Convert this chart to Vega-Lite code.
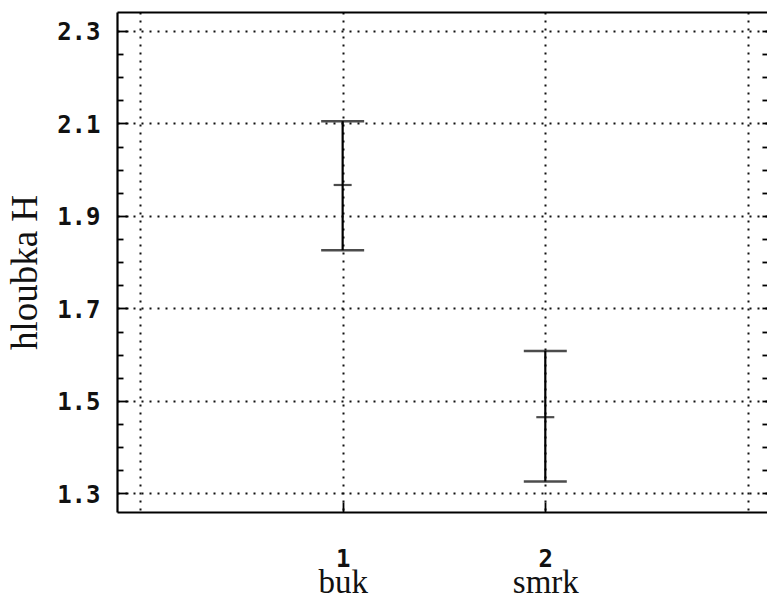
{
  "$schema": "https://vega.github.io/schema/vega-lite/v6.json",
  "autosize": "none",
  "width": 650,
  "height": 500,
  "padding": {"left": 117, "top": 12, "right": 0, "bottom": 88},
  "background": "white",
  "config": {"view": {"stroke": null}},
  "data": {"values": [
    {"pos": 1, "grp": "buk", "lo": 1.826, "mean": 1.967, "hi": 2.105},
    {"pos": 2, "grp": "smrk", "lo": 1.326, "mean": 1.465, "hi": 1.608}
  ]},
  "resolve": {"axis": {"x": "independent", "y": "independent"}},
  "layer": [
    {
      "mark": {"type": "rule", "color": "#000", "strokeWidth": 2.2},
      "encoding": {
        "x": {"field": "pos", "type": "quantitative",
          "scale": {"domain": [-0.1135, 3.094], "nice": false, "zero": false},
          "axis": {"orient": "bottom", "values": [0, 1, 2, 3], "title": null,
            "grid": true, "gridDash": [2, 6], "gridWidth": 2, "gridColor": "#111", "gridOpacity": 1,
            "domain": true, "domainColor": "#000", "domainWidth": 2.2,
            "ticks": true, "tickSize": -10, "tickWidth": 1.8, "tickColor": "#000",
            "tickOpacity": {"condition": {"test": "datum.value == 1 || datum.value == 2", "value": 1}, "value": 0},
            "labelExpr": "datum.value == 1 ? '1' : datum.value == 2 ? '2' : ''",
            "labelFont": "DejaVu Sans Mono", "labelFontSize": 24, "labelFontWeight": "bold", "labelColor": "#111",
            "labelBaseline": "alphabetic", "labelPadding": 64, "labelFlush": false, "labelOverlap": false}},
        "y": {"field": "lo", "type": "quantitative",
          "scale": {"domain": [1.26, 2.341], "nice": false, "zero": false},
          "axis": {"orient": "left", "values": [1.3,1.35,1.4,1.45,1.5,1.55,1.6,1.65,1.7,1.75,1.8,1.85,1.9,1.95,2.0,2.05,2.1,2.15,2.2,2.25,2.3],
            "title": "hloubka H", "titleFont": "Liberation Serif", "titleFontSize": 37, "titleFontWeight": "normal",
            "titleColor": "#111", "titlePadding": 12, "titleY": 260,
            "grid": true, "gridDash": [2, 6], "gridWidth": 2, "gridColor": "#111",
            "gridOpacity": {"condition": {"test": "round(datum.value*100) % 20 == 10", "value": 1}, "value": 0},
            "domain": true, "domainColor": "#000", "domainWidth": 2.2,
            "ticks": true, "tickWidth": 1.8, "tickColor": "#000",
            "tickSize": {"condition": {"test": "round(datum.value*100) % 20 == 10", "value": -11}, "value": -6},
            "labelExpr": "round(datum.value*100) % 20 == 10 ? format(datum.value, '.1f') : ''",
            "labelFont": "DejaVu Sans Mono", "labelFontSize": 24, "labelFontWeight": "bold", "labelColor": "#111",
            "labelOffset": 2, "labelPadding": 28, "labelFlush": false, "labelOverlap": false}},
        "y2": {"field": "hi"}
      }
    },
    {
      "mark": {"type": "tick", "orient": "horizontal", "color": "#000", "thickness": 2.5, "size": 43},
      "encoding": {
        "x": {"field": "pos", "type": "quantitative",
          "scale": {"domain": [-0.1135, 3.094], "nice": false, "zero": false},
          "axis": {"orient": "bottom", "values": [1, 2], "title": null, "grid": false, "domain": false, "ticks": false,
            "labelExpr": "datum.value == 1 ? 'buk' : datum.value == 2 ? 'smrk' : ''",
            "labelFont": "Liberation Serif", "labelFontSize": 33, "labelColor": "#111",
            "labelBaseline": "alphabetic", "labelPadding": 80, "labelFlush": false, "labelOverlap": false}},
        "y": {"field": "lo", "type": "quantitative",
          "scale": {"domain": [1.26, 2.341], "nice": false, "zero": false},
          "axis": {"orient": "right", "values": [1.3,1.35,1.4,1.45,1.5,1.55,1.6,1.65,1.7,1.75,1.8,1.85,1.9,1.95,2.0,2.05,2.1,2.15,2.2,2.25,2.3],
            "title": null, "grid": false, "domain": false, "labels": false,
            "ticks": true, "tickSize": -5, "tickWidth": 1.8, "tickColor": "#000"}}
      }
    },
    {
      "mark": {"type": "tick", "orient": "horizontal", "color": "#000", "thickness": 2.5, "size": 43},
      "encoding": {
        "x": {"field": "pos", "type": "quantitative",
          "scale": {"domain": [-0.1135, 3.094], "nice": false, "zero": false},
          "axis": {"orient": "top", "title": null, "grid": false, "domain": true, "domainColor": "#000", "domainWidth": 2.2,
            "ticks": false, "labels": false}},
        "y": {"field": "hi", "type": "quantitative",
          "scale": {"domain": [1.26, 2.341], "nice": false, "zero": false}, "axis": null}
      }
    },
    {
      "mark": {"type": "tick", "orient": "horizontal", "color": "#000", "thickness": 2.2, "size": 18},
      "encoding": {
        "x": {"field": "pos", "type": "quantitative",
          "scale": {"domain": [-0.1135, 3.094], "nice": false, "zero": false}, "axis": null},
        "y": {"field": "mean", "type": "quantitative",
          "scale": {"domain": [1.26, 2.341], "nice": false, "zero": false}, "axis": null}
      }
    }
  ]
}
